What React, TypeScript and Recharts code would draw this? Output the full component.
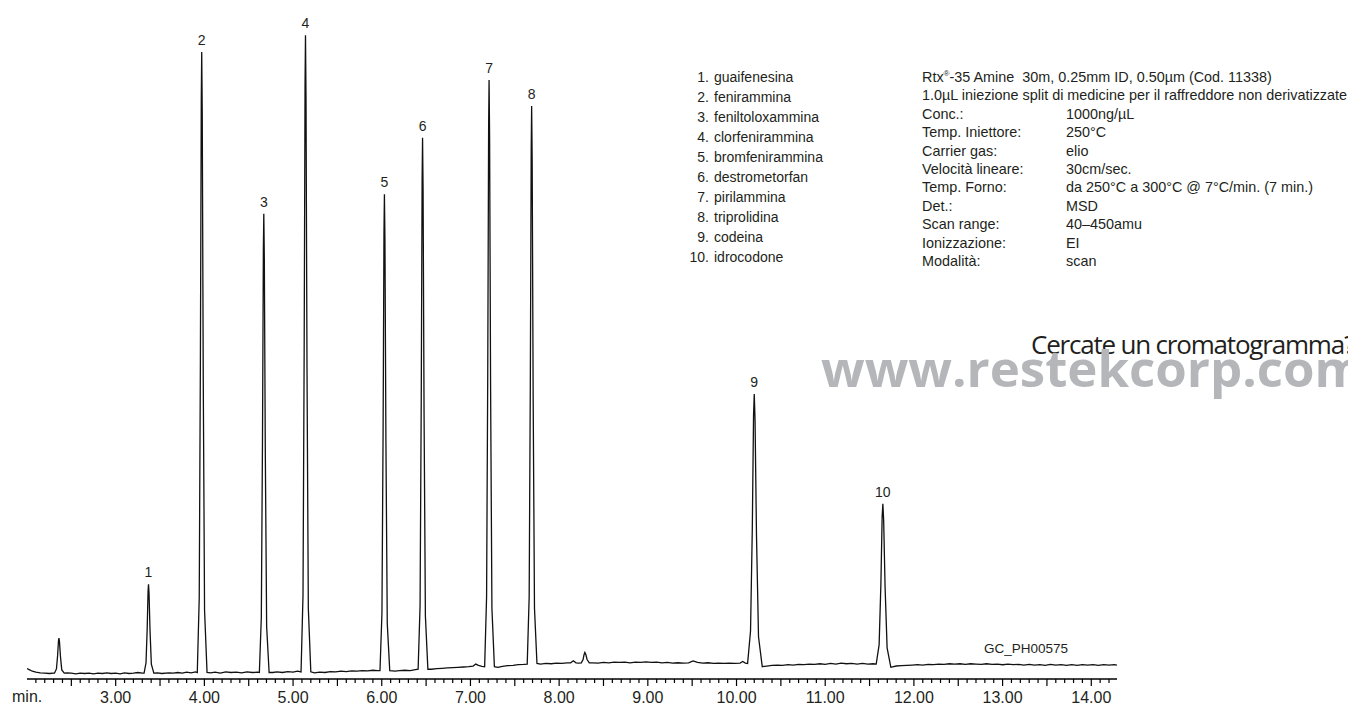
import { ComposedChart, Line, LabelList, XAxis, YAxis } from "recharts"

// retention time (min) / abundance pairs along the flat parts of the trace
const baseline: [number, number][] = [
  [2.0, 16], [2.03, 14], [2.06, 12], [2.1, 10.5], [2.15, 9.5], [2.2, 9], [2.25, 8.5], [2.3, 9],
  [2.45, 9.5], [2.5, 9], [2.55, 8], [2.6, 9], [2.65, 8.5], [2.7, 9], [2.75, 8], [2.8, 9], [2.85, 8.5],
  [2.9, 9.5], [2.95, 8.5], [3.0, 9], [3.05, 8], [3.1, 9.5], [3.15, 8.5], [3.2, 9], [3.25, 10], [3.3, 9],
  [3.47, 9.5], [3.52, 8.5], [3.6, 9.5], [3.65, 9], [3.7, 10], [3.75, 9], [3.8, 10.5], [3.85, 9.5], [3.9, 11],
  [4.07, 9.5], [4.12, 10.5], [4.18, 9], [4.24, 11], [4.3, 10], [4.36, 10.5], [4.42, 9.5], [4.48, 11], [4.54, 10], [4.6, 10.5],
  [4.77, 10], [4.82, 11], [4.88, 10], [4.94, 11.5], [5.0, 10.5], [5.05, 12],
  [5.24, 9.5], [5.3, 10.5], [5.36, 10], [5.42, 11.5], [5.48, 11], [5.54, 12], [5.6, 11.5], [5.66, 12.5],
  [5.72, 12], [5.78, 13], [5.84, 12.5], [5.9, 13.5], [5.95, 13],
  [6.15, 12], [6.2, 13], [6.26, 13.5], [6.32, 13], [6.38, 14.5],
  [6.56, 15], [6.62, 16], [6.68, 16.5], [6.74, 17], [6.8, 17.5], [6.86, 18], [6.92, 18.5], [6.98, 19],
  [7.03, 20], [7.06, 23], [7.09, 21], [7.13, 19.5],
  [7.31, 18], [7.36, 19.5], [7.42, 20.5], [7.48, 21], [7.54, 22], [7.6, 22.5],
  [7.79, 23], [7.85, 24], [7.91, 23.5], [7.97, 24.5], [8.03, 24], [8.09, 25], [8.13, 25], [8.16, 28], [8.19, 25], [8.22, 24.5],
  [8.38, 25], [8.44, 24.5], [8.5, 25.5], [8.56, 25], [8.62, 26], [8.68, 25.5], [8.74, 26], [8.8, 25], [8.86, 26],
  [8.92, 25.5], [8.98, 26.5], [9.04, 25.5], [9.1, 26], [9.16, 25], [9.22, 25.5], [9.28, 24.5], [9.34, 25],
  [9.4, 24.5], [9.46, 25], [9.51, 28], [9.56, 25.5], [9.62, 24.5], [9.68, 25], [9.74, 24], [9.8, 24.5],
  [9.86, 24], [9.92, 24.5], [9.98, 24], [10.04, 24.5], [10.07, 27], [10.1, 24.5],
  [10.34, 20], [10.4, 21], [10.46, 21.5], [10.52, 21], [10.58, 22], [10.64, 21.5], [10.7, 22.5], [10.76, 22],
  [10.82, 23], [10.88, 22.5], [10.94, 23.5], [11.0, 22.5], [11.06, 24], [11.12, 23], [11.18, 24.5],
  [11.24, 23.5], [11.3, 24], [11.36, 23], [11.42, 24], [11.48, 23], [11.54, 23.5],
  [11.8, 20], [11.86, 20.5], [11.92, 21], [11.98, 21.5], [12.04, 22], [12.1, 21.5], [12.16, 22.5],
  [12.22, 22], [12.28, 23], [12.34, 22.5], [12.4, 23.5], [12.46, 23], [12.52, 23.5], [12.58, 22.5],
  [12.64, 23.5], [12.7, 23], [12.76, 22.5], [12.82, 23.5], [12.88, 22.5], [12.94, 23], [13.0, 22],
  [13.06, 23], [13.12, 22], [13.18, 22.5], [13.24, 21.5], [13.3, 22.5], [13.36, 21.5], [13.42, 22],
  [13.48, 21], [13.54, 22.5], [13.6, 21.5], [13.66, 22], [13.72, 21], [13.78, 22], [13.84, 21],
  [13.9, 22], [13.96, 21.5], [14.02, 22], [14.08, 21], [14.14, 22], [14.2, 21.5], [14.26, 22], [14.29, 21.5],
]

// rising and falling flanks of every peak
const flanks: [number, number][] = [
  [2.31, 9], [2.332, 15.5], [2.345, 36], [2.355, 59], [2.366, 58], [2.377, 35], [2.392, 14], [2.42, 9],
  [3.32, 9], [3.342, 25], [3.355, 77], [3.365, 135], [3.376, 132], [3.387, 75], [3.402, 23], [3.43, 9],
  [3.92, 10], [3.942, 125], [3.955, 488], [3.965, 890], [3.976, 870], [3.987, 469], [4.002, 106], [4.03, 10],
  [4.62, 10], [4.642, 95], [4.655, 364], [4.665, 660], [4.676, 646], [4.687, 349], [4.702, 81], [4.73, 10],
  [5.09, 11], [5.112, 129], [5.125, 502], [5.135, 914], [5.146, 894], [5.157, 482], [5.172, 109], [5.2, 11],
  [5.98, 13], [6.002, 101], [6.015, 380], [6.025, 688], [6.036, 674], [6.047, 365], [6.062, 86], [6.09, 13],
  [6.41, 15], [6.432, 113], [6.445, 425], [6.455, 768], [6.466, 752], [6.477, 408], [6.492, 97], [6.52, 15],
  [7.16, 19], [7.182, 127], [7.195, 471], [7.205, 851], [7.216, 833], [7.227, 453], [7.242, 109], [7.27, 19],
  [7.64, 23], [7.662, 126], [7.675, 453], [7.685, 814], [7.696, 797], [7.707, 436], [7.722, 109], [7.75, 24],
  [8.25, 25], [8.27, 30], [8.28, 37], [8.3, 38], [8.315, 30], [8.34, 25],
  [10.125, 24], [10.158, 74], [10.178, 232], [10.192, 406], [10.209, 398], [10.225, 223], [10.248, 65], [10.29, 19],
  [11.575, 23], [11.608, 53], [11.628, 147], [11.642, 250], [11.659, 245], [11.675, 142], [11.698, 48], [11.74, 18],
]

// unnumbered peaks (solvent front, small impurity)
const minorPeaks: [number, number][] = [[2.36, 63], [8.29, 41]]

const peakNumbers = ["1", "2", "3", "4", "5", "6", "7", "8", "9", "10"]
const peakTimes = [3.37, 3.97, 4.67, 5.14, 6.03, 6.46, 7.21, 7.69, 10.2, 11.65]
const peakHeights = [146, 966, 717, 992, 747, 834, 923, 883, 439, 270]

const compounds = [
  "guaifenesina", "fenirammina", "feniltoloxammina", "clorfenirammina", "bromfenirammina",
  "destrometorfan", "pirilammina", "triprolidina", "codeina", "idrocodone",
]

const conditions: [string, string][] = [
  ["Conc.:", "1000ng/µL"],
  ["Temp. Iniettore:", "250°C"],
  ["Carrier gas:", "elio"],
  ["Velocità lineare:", "30cm/sec."],
  ["Temp. Forno:", "da 250°C a 300°C @ 7°C/min. (7 min.)"],
  ["Det.:", "MSD"],
  ["Scan range:", "40–450amu"],
  ["Ionizzazione:", "EI"],
  ["Modalità:", "scan"],
]

const axisLabels = ["3.00", "4.00", "5.00", "6.00", "7.00", "8.00", "9.00", "10.00", "11.00", "12.00", "13.00", "14.00"]

const trace = [
  ...[...baseline, ...flanks, ...minorPeaks].map(([t, v]) => ({ t, v, name: undefined as string | undefined })),
  ...peakTimes.map((t, i) => ({ t, v: peakHeights[i], name: peakNumbers[i] })),
].sort((a, b) => a.t - b.t)

// a tick every 0.1 min, longer on the half minutes, labelled on whole minutes
const tickValues: number[] = []
for (let k = 21; k <= 142; k++) tickValues.push(k / 10)

const INK = "#231f20"
const FONT = "'Liberation Sans', Arial, Helvetica, sans-serif"
const PROMO_FONT = "'Open Sans', sans-serif"

function TimeTick({ x, y, payload }: any) {
  const tenths = Math.round(payload.value * 10)
  const half = tenths % 5 === 0
  const whole = tenths % 10 === 0
  const label = whole ? axisLabels[tenths / 10 - 3] : undefined
  return (
    <g>
      <line x1={x} x2={x} y1={y} y2={y + (half ? 7 : 4)} stroke="#000" strokeWidth={1.2} />
      {label && (
        <text x={x} y={y + 24} textAnchor="middle" fontSize={16} fontFamily={FONT} fill={INK}>
          {label}
        </text>
      )}
    </g>
  )
}

export default function App() {
  return (
    <div style={{ position: "absolute", left: 0, top: 0, width: 1348, height: 706, background: "#fff", fontFamily: FONT, color: INK }}>
      <ComposedChart width={1348} height={706} data={trace} margin={{ top: 30, right: 231, bottom: 0, left: 27 }}>
        <XAxis
          dataKey="t"
          type="number"
          domain={[2.0, 14.29]}
          ticks={tickValues}
          interval={0}
          allowDataOverflow
          height={27}
          tickSize={0}
          tickMargin={0}
          tickLine={false}
          tick={<TimeTick />}
          axisLine={{ stroke: "#000", strokeWidth: 1.5 }}
        />
        <YAxis hide type="number" domain={[0, 1000]} allowDataOverflow />
        <Line
          type="linear"
          dataKey="v"
          stroke="#111"
          strokeWidth={1.3}
          dot={false}
          isAnimationActive={false}
        >
          <LabelList dataKey="name" position="top" offset={7} fontSize={14} fontFamily={FONT} fill={INK} />
        </Line>
      </ComposedChart>

      <div style={{ position: "absolute", left: 12, top: 688, fontSize: 16 }}>min.</div>
      <div style={{ position: "absolute", left: 984, top: 641, fontSize: 13.5 }}>GC_PH00575</div>

      <div style={{ position: "absolute", left: 678, top: 67, fontSize: 14, lineHeight: "20px" }}>
        {compounds.map((c, i) => (
          <div key={c} style={{ display: "flex" }}>
            <span style={{ width: 31, textAlign: "right" }}>{peakNumbers[i]}.</span>
            <span style={{ marginLeft: 5 }}>{c}</span>
          </div>
        ))}
      </div>

      <div style={{ position: "absolute", left: 922, top: 68, fontSize: 14.4, lineHeight: "18.4px", whiteSpace: "nowrap" }}>
        <div>
          Rtx<sup style={{ fontSize: 8, lineHeight: 0 }}>®</sup>-35 Amine&nbsp; 30m, 0.25mm ID, 0.50µm (Cod. 11338)
        </div>
        <div>1.0µL iniezione split di medicine per il raffreddore non derivatizzate</div>
        {conditions.map(([k, v]) => (
          <div key={k} style={{ display: "flex" }}>
            <span style={{ width: 144 }}>{k}</span>
            <span>{v}</span>
          </div>
        ))}
      </div>

      <div style={{ position: "absolute", left: 0, top: 0, width: 1348, height: 706, overflow: "hidden", pointerEvents: "none" }}>
        <div style={{ position: "absolute", left: 1031, top: 331, height: 26, fontFamily: PROMO_FONT, fontSize: 26, letterSpacing: -1.2, color: "#231f20", whiteSpace: "nowrap", lineHeight: "26px" }}>
          Cercate un cromatogramma?
        </div>
        <div style={{ position: "absolute", left: 821, top: 357, height: 20, fontFamily: PROMO_FONT, fontWeight: 700, fontSize: 51, letterSpacing: 0, color: "#b4b6b9", whiteSpace: "nowrap", lineHeight: "20px" }}>
          www.restekcorp.com
        </div>
      </div>
    </div>
  )
}
